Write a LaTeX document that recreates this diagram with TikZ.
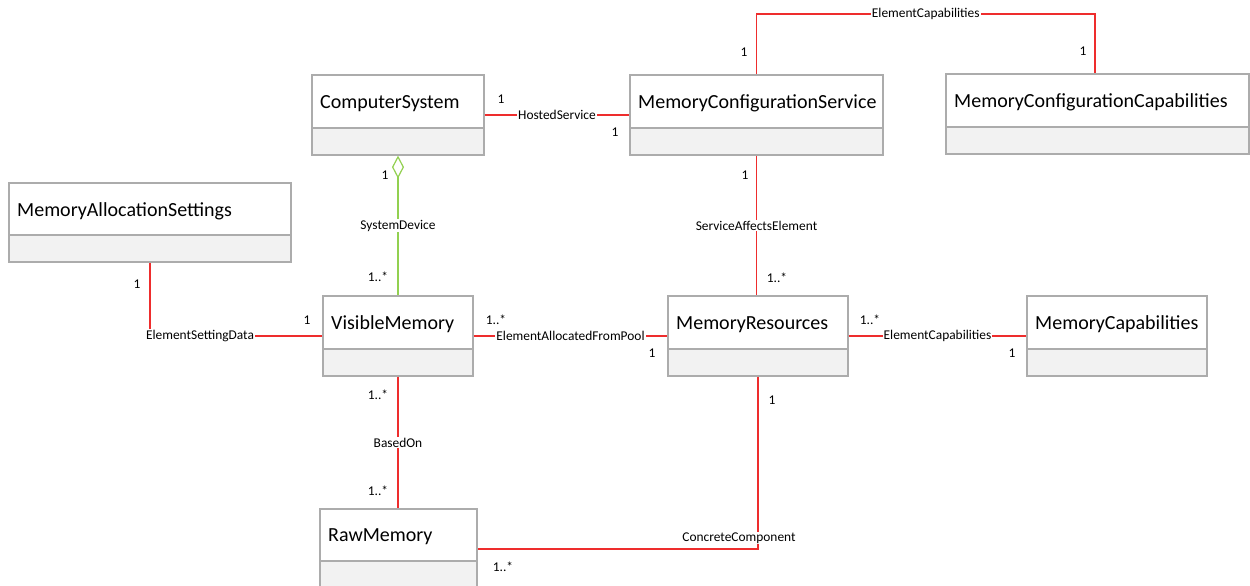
\documentclass[tikz,border=0pt]{standalone}
\usepackage{fontspec}
\setmainfont{Carlito}
\usetikzlibrary{arrows.meta,fit}
\definecolor{assocred}{RGB}{238,45,45}
\definecolor{aggrgreen}{RGB}{146,208,80}
\definecolor{boxgray}{RGB}{172,172,172}
\definecolor{compfill}{RGB}{242,242,242}
\tikzset{
  classbox/.style={draw=boxgray, line width=1.2pt, inner sep=0pt},
  classname/.style={font=\fontsize{20}{24}\selectfont, inner sep=0pt, anchor=west},
  assoc/.style={draw=assocred, line width=1.2pt},
  aggr/.style={draw=aggrgreen, line width=1.2pt},
  lbl/.style={font=\fontsize{13.4}{15}\selectfont, fill=white, inner sep=1pt},
  mult/.style={font=\fontsize{13.4}{15}\selectfont, inner sep=0pt},
}
\newcommand\umlclass[7]{%
  \fill[compfill] (#2,#5) rectangle (#4,#6);
  \draw[boxgray, line width=1.2pt] (#2,#5) -- (#4,#5);
  \node[classbox, fit={(#2,#3) (#4,#6)}] (#1) {};
  \node[classname] (#1-name) at ({#2+8},{(#3+#5)/2+2}) {#7};
}
\begin{document}
\begin{tikzpicture}[x=1pt,y=-1pt]
\useasboundingbox (0,0) rectangle (1250,586);
\clip (0,0) rectangle (1250,586);

\umlclass{cs}{312}{75}{484}{128}{155}{ComputerSystem}
\umlclass{mcs}{630}{75}{883}{128}{155}{MemoryConfigurationService}
\umlclass{mcc}{946}{74}{1249}{127}{154}{MemoryConfigurationCapabilities}
\umlclass{mas}{9}{183}{291}{235}{262}{MemoryAllocationSettings}
\umlclass{vm}{323}{296}{473}{349}{376}{VisibleMemory}
\umlclass{mr}{668}{296}{848}{349}{376}{MemoryResources}
\umlclass{mc}{1027}{296}{1207}{349}{376}{MemoryCapabilities}
\umlclass{rm}{320}{509}{477}{561}{589}{RawMemory}

% connectors
\draw[assoc] (cs) -- node[lbl] (hs) {HostedService} (mcs);
\draw[assoc] (mcs.north) -- (mcs.north |- 0,14) -- node[lbl] (ec1) {ElementCapabilities} ([xshift=-2.5pt]mcc.north |- 0,14) -- ([xshift=-2.5pt]mcc.north);
\draw[aggr, {Diamond[open,length=23pt,width=12pt]}-] (cs.south) -- node[lbl] (sd) {SystemDevice} (vm.north);
\draw[assoc] (mcs.south) -- node[lbl] (sae) {ServiceAffectsElement} (mcs.south |- mr.north);
\draw[assoc] (vm) -- node[lbl] (eafp) {ElementAllocatedFromPool} (mr);
\draw[assoc] (mr) -- node[lbl] (ec2) {ElementCapabilities} (mc);
\draw[assoc] (mas.south) |- (vm.west);
\node[lbl] (esd) at (200,336) {ElementSettingData};
\draw[assoc] (vm.south) -- node[lbl] (bo) {BasedOn} (vm.south |- rm.north);
\draw[assoc] (mr.south) |- (rm.east);
\node[lbl] (ccp) at (739,538) {ConcreteComponent};

% multiplicities
\node[mult] (m1) at (501,99) {1};
\node[mult] (m2) at (615,132) {1};
\node[mult] (m3) at (744,52) {1};
\node[mult] (m4) at (1083,51) {1};
\node[mult] (m5) at (385,175) {1};
\node[mult] (m6) at (378,277) {1..*};
\node[mult] (m7) at (745,175) {1};
\node[mult] (m8) at (777,278) {1..*};
\node[mult] (m9) at (137,284) {1};
\node[mult] (m10) at (307,320) {1};
\node[mult] (m11) at (496,320) {1..*};
\node[mult] (m12) at (652,353) {1};
\node[mult] (m13) at (870,320) {1..*};
\node[mult] (m14) at (1012,353) {1};
\node[mult] (m15) at (378,395) {1..*};
\node[mult] (m16) at (378,491) {1..*};
\node[mult] (m17) at (772,400) {1};
\node[mult] (m18) at (503,567) {1..*};
\end{tikzpicture}
\end{document}
